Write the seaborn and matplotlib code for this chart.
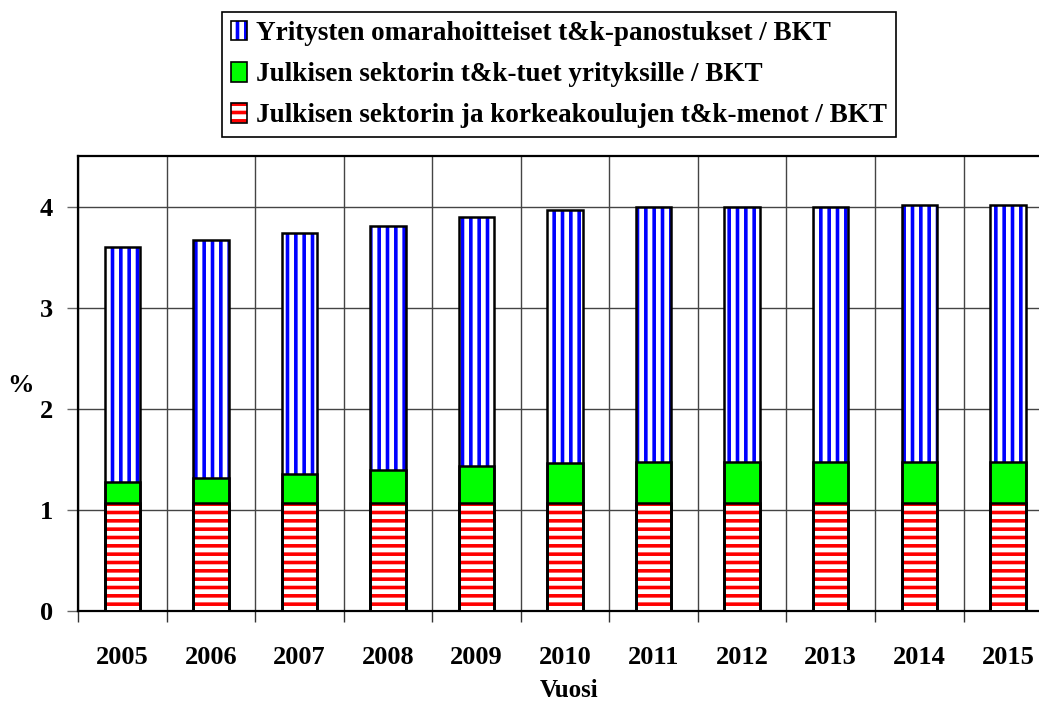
import numpy as np
import pandas as pd
import matplotlib
matplotlib.use("Agg")
import matplotlib.pyplot as plt
import seaborn as sns
from matplotlib.patches import Patch

# Data (% of GDP)
years = ["2005", "2006", "2007", "2008", "2009", "2010", "2011", "2012", "2013", "2014", "2015"]
public_rd = [1.07, 1.07, 1.07, 1.07, 1.07, 1.07, 1.07, 1.07, 1.07, 1.07, 1.07]
public_support = [0.21, 0.25, 0.285, 0.32, 0.36, 0.39, 0.405, 0.405, 0.405, 0.405, 0.405]
company_own = [2.32, 2.35, 2.385, 2.42, 2.47, 2.51, 2.525, 2.525, 2.525, 2.545, 2.545]

labels = [
    "Yritysten omarahoitteiset t&k-panostukset / BKT",
    "Julkisen sektorin t&k-tuet yrityksille / BKT",
    "Julkisen sektorin ja korkeakoulujen t&k-menot / BKT",
]

df = pd.DataFrame({"Vuosi": years})
df["low"] = np.array(public_rd)
df["mid"] = df["low"] + np.array(public_support)
df["top"] = df["mid"] + np.array(company_own)

sns.set_theme(style="white")
plt.rcParams["font.family"] = ["Liberation Serif", "DejaVu Serif"]
plt.rcParams["font.weight"] = "bold"
plt.rcParams["hatch.linewidth"] = 2.6
plt.rcParams["text.color"] = "black"
plt.rcParams["axes.labelcolor"] = "black"
plt.rcParams["xtick.labelcolor"] = "black"
plt.rcParams["ytick.labelcolor"] = "black"

fig = plt.figure(figsize=(10.39, 7.03), dpi=100)
ax = fig.add_axes([0.0751, 0.1309, 0.9375, 0.647])

# layers: (column, face, hatch, hatch colour)
layers = [
    ("top", "white", "||", "#0000ff"),
    ("mid", "#00ff00", None, None),
    ("low", "white", "--", "#ff0000"),
]

for col, face, hatch, hcol in layers:
    sns.barplot(data=df, x="Vuosi", y=col, color=face, width=0.4,
                saturation=1, ax=ax, zorder=3)
    n0 = len(ax.patches) - len(years)
    for p in ax.patches[n0:]:
        p.set_facecolor(face)
        if hatch:
            p.set_hatch(hatch)
            p.set_edgecolor(hcol)
        else:
            p.set_edgecolor("black")
        p.set_linewidth(0)

# black outlines on top of every segment
for col, face, hatch, hcol in layers:
    sns.barplot(data=df, x="Vuosi", y=col, width=0.4, fill=False,
                color="black", linewidth=1.8, ax=ax, zorder=4)

ax.set_xlim(-0.5, len(years) - 0.5)
ax.set_ylim(0, 4.5)
ax.set_yticks([0, 1, 2, 3, 4])
ax.set_xticks(np.arange(-0.5, len(years), 1.0), minor=True)

ax.grid(axis="y", which="major", color="#444444", linewidth=1, zorder=0)
ax.grid(axis="x", which="minor", color="#444444", linewidth=1, zorder=0)
ax.grid(axis="x", which="major", visible=False)
ax.set_axisbelow(True)

for s in ax.spines.values():
    s.set_visible(True)
    s.set_color("black")
    s.set_linewidth(1.6)

ax.tick_params(axis="x", which="major", length=0, pad=25, labelsize=19, labelcolor="black")
ax.tick_params(axis="x", which="minor", length=8, width=1, color="#333333", direction="out", bottom=True)
ax.tick_params(axis="y", length=8, width=1, color="#666666", direction="out", left=True, pad=10,
               labelsize=19, labelcolor="black")
for t in ax.get_xticklabels() + ax.get_yticklabels():
    t.set_fontweight("bold")

ax.set_xlabel("Vuosi", fontsize=18, fontweight="bold", va="center", color="black")
ax.xaxis.set_label_coords(0.5044, -0.175)
ax.set_ylabel("%", fontsize=19, fontweight="bold", rotation=0, va="center", ha="center", color="black")
ax.yaxis.set_label_coords(-0.059, 0.495)

outline = dict(facecolor="none", edgecolor="black", linewidth=1.2)
handles = [
    (Patch(facecolor="white", edgecolor="#0000ff", hatch="||", linewidth=0), Patch(**outline)),
    (Patch(facecolor="#00ff00", linewidth=0), Patch(**outline)),
    (Patch(facecolor="white", edgecolor="#ff0000", hatch="--", linewidth=0), Patch(**outline)),
]
leg = fig.legend(handles=handles, labels=labels, loc="upper left", bbox_to_anchor=(0.2137, 0.983),
                 frameon=True, fancybox=False, edgecolor="black", framealpha=1,
                 prop={"family": "Liberation Serif", "weight": "bold", "size": 19.5},
                 handlelength=0.6, handleheight=0.75, handletextpad=0.35,
                 labelspacing=0.58, borderpad=0.32, borderaxespad=0)
leg.get_frame().set_linewidth(1.2)
for t in leg.get_texts():
    t.set_color("black")

fig.savefig("out.png", dpi=100)
